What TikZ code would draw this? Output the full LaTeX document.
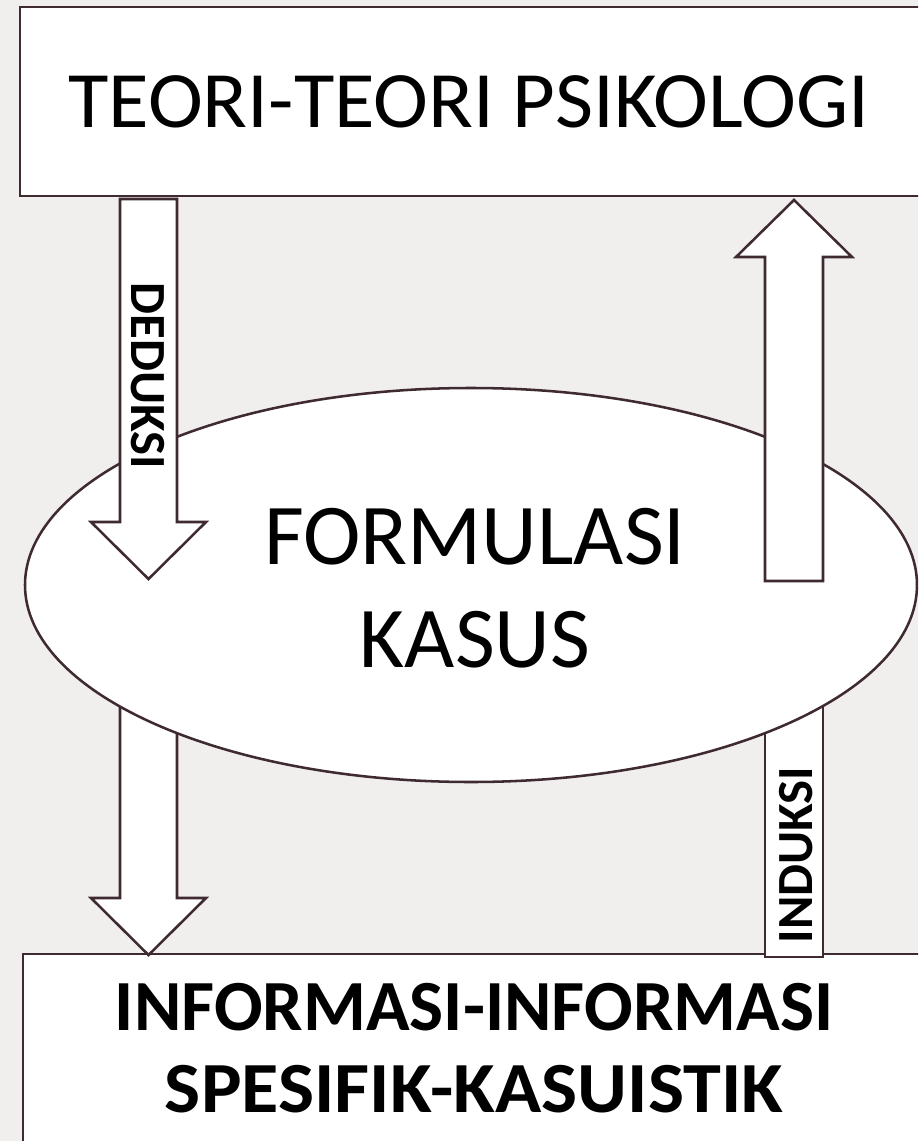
\documentclass[tikz,border=0pt]{standalone}
\usepackage{graphicx}
\usepackage{fontspec}
\setmainfont{Carlito}
\definecolor{edge}{HTML}{3E2A30}
\definecolor{bg}{HTML}{F0EFEE}
\begin{document}
\begin{tikzpicture}[x=0.75pt,y=-0.75pt,
  shapest/.style={draw=edge, line width=1.9pt, fill=white, line join=miter},
  lbl/.style={inner sep=0pt, text=black}]
\fill[bg] (0,0) rectangle (918,1141);
\useasboundingbox (0,0) rectangle (918,1141);
\clip (0,0) rectangle (918,1141);
% top box
\draw[shapest] (20,7) rectangle (960,196);
\node[lbl, font=\fontsize{60}{62}\selectfont] (teori) at (469,102) {\scalebox{1.035}[1]{TEORI-TEORI PSIKOLOGI}};
% bottom box
\draw[shapest] (23,954) rectangle (960,1200);
\node[lbl, align=center, font=\fontsize{54}{62}\bfseries] (info) at (474,1048) {\scalebox{1.0}[1]{INFORMASI-INFORMASI}\\\scalebox{1.06}[1]{SPESIFIK-KASUISTIK}};
% lower pieces behind ellipse
\draw[shapest] (120,650) -- (177,650) -- (177,898) -- (206,898) -- (148.5,955) -- (91,898) -- (120,898) -- cycle;
\draw[shapest] (765,650) rectangle (823,957);
\node[lbl, rotate=90, font=\fontsize{38}{40}\bfseries] (induksi) at (796,855) {INDUKSI};
% ellipse
\draw[shapest] (471,585) ellipse [x radius=446, y radius=197];
\node[lbl, align=center, font=\fontsize{65}{77}\selectfont] (formulasi) at (475,588) {FORMULASI\\KASUS};
% upper arrows over ellipse
\draw[shapest] (120,199) -- (177,199) -- (177,522) -- (206,522) -- (148.5,579) -- (91,522) -- (120,522) -- cycle;
\node[lbl, rotate=-90, font=\fontsize{38}{40}\bfseries] (deduksi) at (148,376) {DEDUKSI};
\draw[shapest] (765,581) -- (823,581) -- (823,257) -- (852,257) -- (794,200) -- (736,257) -- (765,257) -- cycle;
\end{tikzpicture}
\end{document}
